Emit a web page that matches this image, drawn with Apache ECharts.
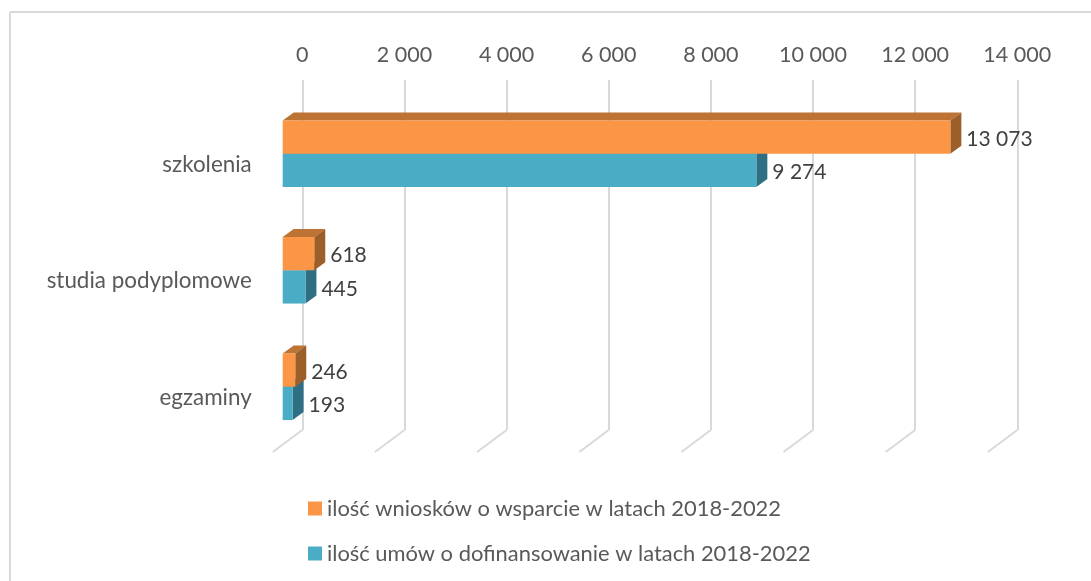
<!DOCTYPE html>
<html><head><meta charset="utf-8">
<style>html,body{margin:0;padding:0;background:#fff}#c{width:1091px;height:581px}</style>
<script src="https://cdn.jsdelivr.net/npm/echarts@6/dist/echarts.min.js"></script>
</head><body><div id="c"></div>
<script>
const categories = ['szkolenia', 'studia podyplomowe', 'egzaminy'];
const seriesNames = ['ilość wniosków o wsparcie w latach 2018-2022', 'ilość umów o dofinansowanie w latach 2018-2022'];
const wnioski = [13073, 618, 246];
const umowy = [9274, 445, 193];
const ticks = [0, 2000, 4000, 6000, 8000, 10000, 12000, 14000];

const FONT = 'Lato';
const fmt = v => String(v).replace(/\B(?=(\d{3})+$)/g, ' ');
const DX = 11, DY = 8, RATIO = 33.3 / 116.5;
const chart = echarts.init(document.getElementById('c'), null, {renderer: 'canvas'});

function bar3d(side, front, sideC, topC) {
  return function (params, api) {
    const v = api.value(0), p = api.coord([v, api.value(1)]);
    const z = api.coord([0, api.value(1)]);
    const h = api.size([0, 1])[1] * RATIO;
    const y0 = side < 0 ? p[1] - h : p[1], y1 = y0 + h;
    const x0 = z[0], x1 = p[0];
    return {type: 'group', children: [
      {type: 'polygon', shape: {points: [[x0, y0], [x0 + DX, y0 - DY], [x1 + DX, y0 - DY], [x1, y0]]}, style: {fill: topC}},
      {type: 'polygon', shape: {points: [[x1, y0], [x1 + DX, y0 - DY], [x1 + DX, y1 - DY], [x1, y1]]}, style: {fill: sideC}},
      {type: 'rect', shape: {x: x0, y: y0, width: x1 - x0, height: h}, style: {fill: front}},
      {type: 'text', x: x1 + DX + 5, y: (y0 + y1) / 2 + 2, style: {text: fmt(v), font: '21px ' + FONT, fill: '#404040', textVerticalAlign: 'middle', textAlign: 'left'}}
    ]};
  };
}

chart.setOption({
  animation: false,
  backgroundColor: '#fff',
  textStyle: {fontFamily: FONT},
  grid: [
    {left: 302.3, top: 80, width: 715, height: 350},
    {left: 282.7, top: 95.5, width: 715, height: 349.5},
    {left: 282.7, top: 106.5, width: 715, height: 349.5}
  ],
  xAxis: [
    {type: 'value', gridIndex: 0, position: 'top', min: 0, max: 14000, interval: 2000,
     axisLine: {show: false}, axisTick: {show: false},
     axisLabel: {fontFamily: FONT, fontSize: 21.5, color: '#595959', margin: 14, formatter: fmt, hideOverlap: false},
     splitLine: {show: true, lineStyle: {color: '#D9D9D9', width: 2}}},
    {type: 'value', gridIndex: 1, min: 0, max: 14000, interval: 2000, show: false},
    {type: 'value', gridIndex: 2, min: 0, max: 14000, interval: 2000, show: false}
  ],
  yAxis: [
    {type: 'value', gridIndex: 0, min: 0, max: 1, show: false},
    {type: 'category', gridIndex: 1, data: categories, inverse: true, show: false},
    {type: 'category', gridIndex: 2, data: categories, inverse: true,
     axisLine: {show: false}, axisTick: {show: false}, splitLine: {show: false},
     axisLabel: {fontFamily: FONT, fontSize: 22.4, color: '#595959', margin: 31}}
  ],
  legend: {
    orient: 'vertical', left: 308, top: 496, padding: 0, itemWidth: 14, itemHeight: 14, itemGap: 20,
    textStyle: {fontFamily: FONT, fontSize: 21.9, color: '#595959', lineHeight: 25},
    data: [
      {name: seriesNames[0], icon: 'rect', itemStyle: {color: '#FA9646'}},
      {name: seriesNames[1], icon: 'rect', itemStyle: {color: '#4BACC6'}}
    ]
  },
  graphic: [
    {type: 'line', shape: {x1: 10, y1: 12, x2: 1091, y2: 12}, style: {stroke: '#D9D9D9', lineWidth: 2}},
    {type: 'line', shape: {x1: 10, y1: 12, x2: 10, y2: 581}, style: {stroke: '#D9D9D9', lineWidth: 2}}
  ],
  series: [
    {type: 'custom', name: 'feet', xAxisIndex: 0, yAxisIndex: 0, silent: true, clip: false, z: 1,
     data: ticks.map(t => [t, 0]),
     renderItem: (params, api) => {
       const p = api.coord([api.value(0), 0]);
       return {type: 'line', shape: {x1: p[0], y1: p[1], x2: p[0] - 29.5, y2: p[1] + 22}, style: {stroke: '#D9D9D9', lineWidth: 2}};
     }},
    {type: 'custom', name: seriesNames[1], xAxisIndex: 1, yAxisIndex: 1, clip: false, z: 3,
     itemStyle: {color: '#4BACC6'},
     data: umowy.map((v, i) => [v, i]),
     renderItem: bar3d(1, '#4BACC6', '#2F6F84', '#38808F')},
    {type: 'custom', name: seriesNames[0], xAxisIndex: 1, yAxisIndex: 1, clip: false, z: 4,
     itemStyle: {color: '#FA9646'},
     data: wnioski.map((v, i) => [v, i]),
     renderItem: bar3d(-1, '#FA9646', '#9C5F2A', '#BC7333')}
  ]
});
</script></body></html>
